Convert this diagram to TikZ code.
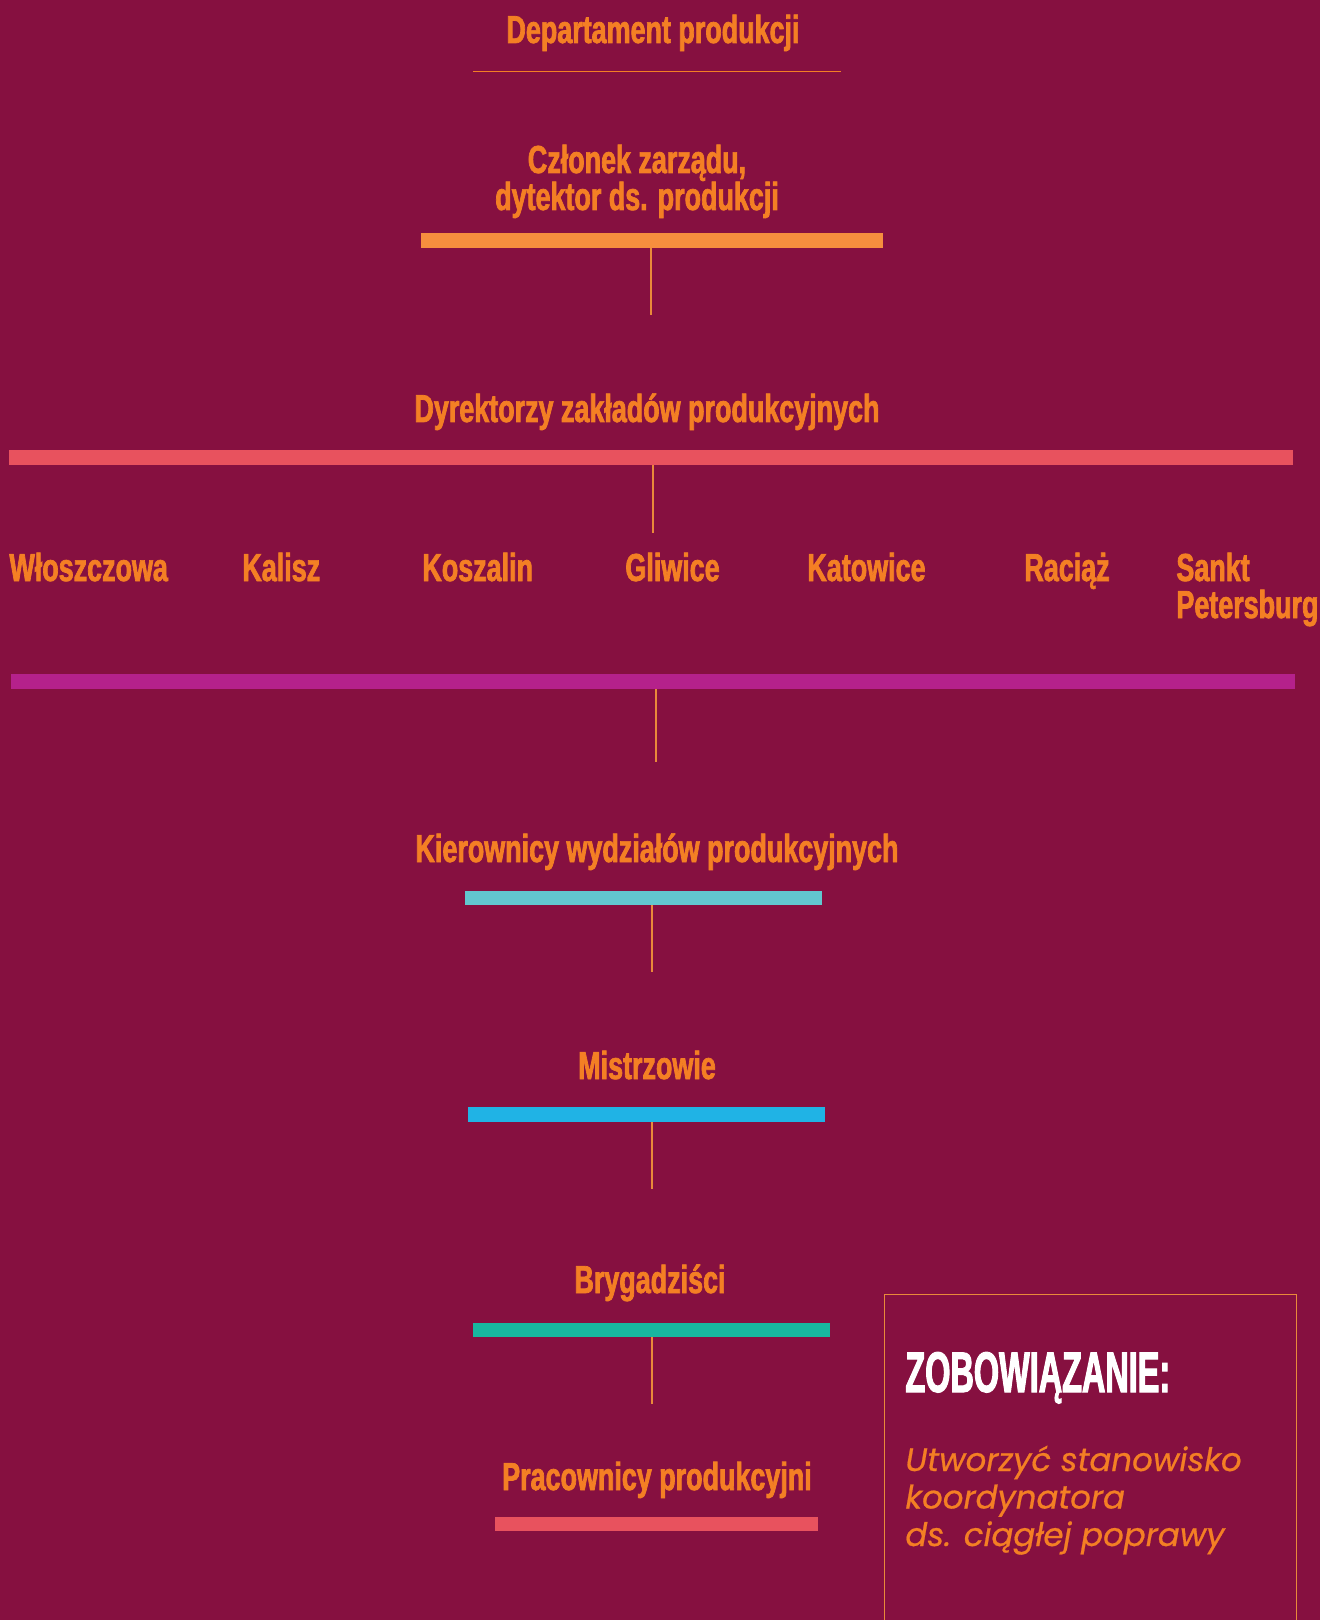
\documentclass[tikz,border=0pt]{standalone}
\usepackage{fontspec}
\newfontfamily\antonfont{Liberation Sans Bold}[FakeStretch=0.69, FakeBold=1.8]
\newfontfamily\bebasfont{Liberation Sans Bold}[FakeStretch=0.567, FakeBold=1.8]
\newfontfamily\gothamfont{Poppins Italic}[FakeBold=0.6]
\definecolor{bgc}{HTML}{861040}
\definecolor{txto}{HTML}{F47F24}
\definecolor{lineo}{HTML}{E98A3A}
\definecolor{baro}{HTML}{F68E3E}
\definecolor{barcoral}{HTML}{E8525E}
\definecolor{barmag}{HTML}{B5218B}
\definecolor{barcyan}{HTML}{62C7CF}
\definecolor{barblue}{HTML}{20B3E5}
\definecolor{barteal}{HTML}{17B79F}
\begin{document}
\begin{tikzpicture}[x=0.5pt,y=-0.5pt,
  lbl/.style={text=txto, font=\antonfont\fontsize{19.5pt}{18.5pt}\selectfont, inner sep=0pt, anchor=base, align=center},
  city/.style={lbl, anchor=base west, align=left},
  bar/.style={rectangle, inner sep=0pt, outer sep=0pt, anchor=north west, minimum height=7.5pt},
  conn/.style={draw=lineo, line width=0.7pt}]
\useasboundingbox (0,0) rectangle (1320,1620);
\fill[bgc] (0,0) rectangle (1320,1620);

% title
\node[lbl] (title) at (653,43) {Departament produkcji};
\coordinate (tl1) at (473,72);
\coordinate (tl2) at (841,72);
\draw[draw=txto, line width=0.5pt] (tl1) -- (tl2);

% level 1 (base anchor = last line baseline)
\node[lbl] (czl) at (637,210) {Członek zarządu,\\dytektor ds. produkcji};
\node[bar, fill=baro, minimum width=231pt] (b1) at (421,233) {};
\coordinate (v1) at (651,315);
\draw[conn] (v1 |- b1.south) -- (v1);

% level 2
\node[lbl] (dyr) at (647,422) {Dyrektorzy zakładów produkcyjnych};
\node[bar, fill=barcoral, minimum width=642pt] (b2) at (9,450) {};
\coordinate (v2) at (653,533);
\draw[conn] (v2 |- b2.south) -- (v2);

% cities
\node[city] (c1) at (9,581) {Włoszczowa};
\node[city] (c2) at (242,581) {Kalisz};
\node[city] (c3) at (422,581) {Koszalin};
\node[city] (c4) at (625,581) {Gliwice};
\node[city] (c5) at (807,581) {Katowice};
\node[city] (c6) at (1024,581) {Raciąż};
\node[city] (c7) at (1176,618) {Sankt\\Petersburg};
\node[bar, fill=barmag, minimum width=642pt] (b3) at (11,674) {};
\coordinate (v3) at (656,762);
\draw[conn] (v3 |- b3.south) -- (v3);

% level 3
\node[lbl] (kier) at (657,862) {Kierownicy wydziałów produkcyjnych};
\node[bar, fill=barcyan, minimum width=178.5pt, minimum height=7pt] (b4) at (465,891) {};
\coordinate (v4) at (652,972);
\draw[conn] (v4 |- b4.south) -- (v4);

% level 4
\node[lbl] (mis) at (647,1079) {Mistrzowie};
\node[bar, fill=barblue, minimum width=178.5pt] (b5) at (468,1107) {};
\coordinate (v5) at (652,1189);
\draw[conn] (v5 |- b5.south) -- (v5);

% level 5
\node[lbl] (bry) at (650,1293) {Brygadziści};
\node[bar, fill=barteal, minimum width=178.5pt, minimum height=7pt] (b6) at (473,1323) {};
\coordinate (v6) at (652,1404);
\draw[conn] (v6 |- b6.south) -- (v6);

% level 6
\node[lbl] (pra) at (657,1490) {Pracownicy produkcyjni};
\node[bar, fill=barcoral, minimum width=161.5pt, minimum height=7pt] (b7) at (495,1517) {};

% commitment box
\node[rectangle, draw=lineo, line width=0.6pt, inner sep=0pt, anchor=north west,
      minimum width=206pt, minimum height=170pt] (box) at (884,1294) {};
\node[text=white, font=\bebasfont\fontsize{28.6pt}{30pt}\selectfont, inner sep=0pt, anchor=base west] (zob) at (905,1392) {ZOBOWIĄZANIE:};
\node[text=txto, font=\gothamfont\fontsize{16.2pt}{18.75pt}\selectfont, inner sep=0pt, anchor=base west, align=left] (utw) at (905,1546) {Utworzyć stanowisko\\koordynatora\\ds. ciągłej poprawy};
\end{tikzpicture}
\end{document}
